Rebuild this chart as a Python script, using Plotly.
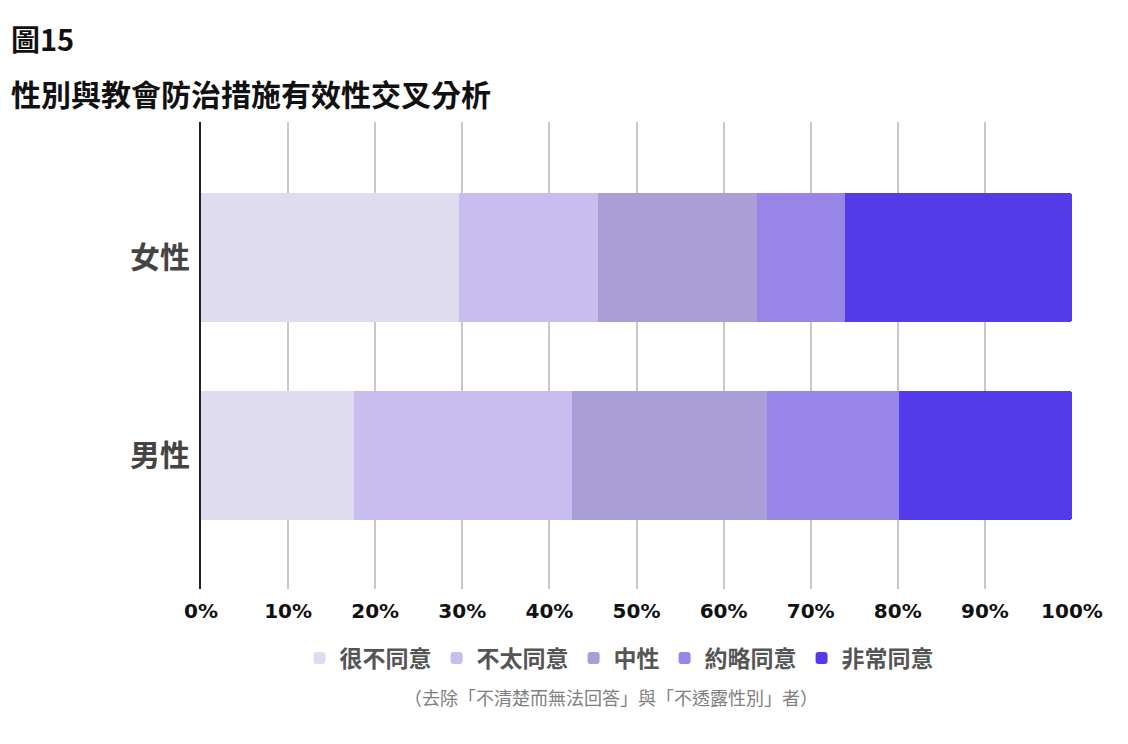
import plotly.graph_objects as go

categories = ["女性", "男性"]
series_names = ["很不同意", "不太同意", "中性", "約略同意", "非常同意"]
female_values = [29.6, 16.0, 18.2, 10.1, 26.1]
male_values = [17.6, 25.0, 22.4, 15.1, 19.9]
colors = ["#E0DCF0", "#C8BDEE", "#A99ED6", "#9786E8", "#533BE9"]
tick_values = [0, 10, 20, 30, 40, 50, 60, 70, 80, 90, 100]
tick_labels = [f"{v}%" for v in tick_values]

title_main = "圖15"
title_sub = "性別與教會防治措施有效性交叉分析"
note_text = "（去除「不清楚而無法回答」與「不透露性別」者）"

CJK = "Noto Sans CJK TC"

fig = go.Figure()
for i, name in enumerate(series_names):
    fig.add_trace(go.Bar(
        y=categories,
        x=[female_values[i], male_values[i]],
        name=name,
        orientation="h",
        marker=dict(color=colors[i], line=dict(width=0)),
        hoverinfo="skip",
    ))

fig.update_layout(
    barmode="stack",
    bargap=0.348,
    barcornerradius=3,
    width=1128,
    height=744,
    paper_bgcolor="white",
    plot_bgcolor="white",
    margin=dict(l=193, r=64, t=114, b=163),
    showlegend=True,
    legend=dict(
        orientation="h",
        x=0.48, xanchor="center",
        y=-0.148, yanchor="middle",
        font=dict(family=CJK, size=23, color="#555555", weight="bold"),
        traceorder="normal",
        itemclick=False,
    ),
    xaxis=dict(
        range=[0, 100],
        tickvals=tick_values,
        ticktext=tick_labels,
        showgrid=True,
        gridcolor="#C8C8C8",
        gridwidth=2,
        zeroline=False,
        showline=False,
        ticks="",
        ticklabelstandoff=8,
        tickfont=dict(family="DejaVu Sans", size=20, color="#111111", weight="bold"),
        fixedrange=True,
    ),
    yaxis=dict(
        categoryorder="array",
        categoryarray=["男性", "女性"],
        range=[-0.674, 1.684],
        showgrid=False,
        zeroline=False,
        showline=True,
        linecolor="#222222",
        linewidth=2,
        ticks="",
        ticklabelstandoff=3,
        tickfont=dict(family=CJK, size=30, color="#444444", weight="bold"),
        fixedrange=True,
    ),
    annotations=[
        dict(text=title_main, xref="paper", yref="paper", x=-0.221, y=1.18,
             xanchor="left", yanchor="middle", showarrow=False,
             font=dict(family=CJK, size=29, color="#111111", weight="bold")),
        dict(text=title_sub, xref="paper", yref="paper", x=-0.221, y=1.063,
             xanchor="left", yanchor="middle", showarrow=False,
             font=dict(family=CJK, size=30, color="#111111", weight="bold")),
        dict(text=note_text, xref="paper", yref="paper", x=0.471, y=-0.232,
             xanchor="center", yanchor="middle", showarrow=False,
             font=dict(family=CJK, size=18, color="#808080")),
    ],
)

fig.write_html("out.html")
